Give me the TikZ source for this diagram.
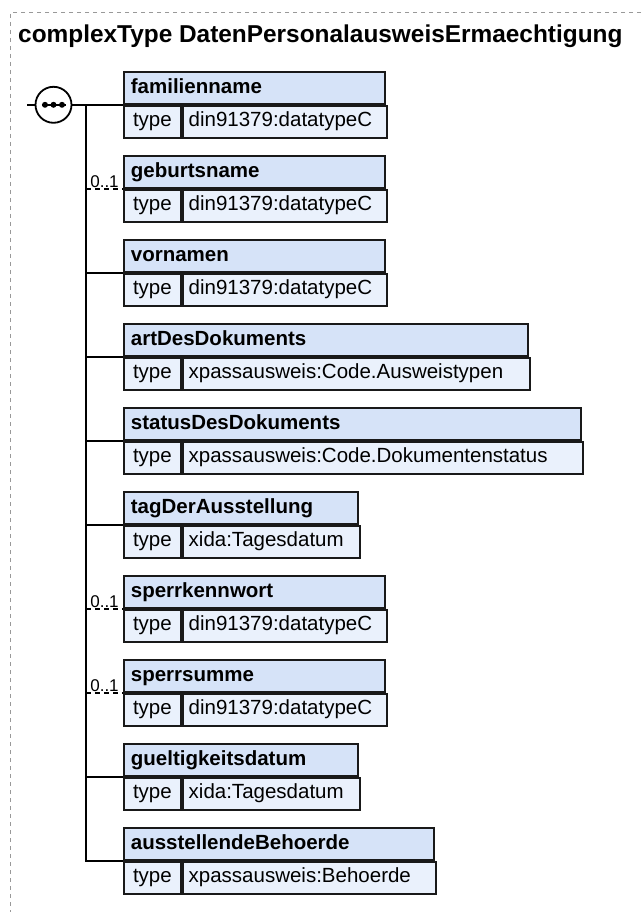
\documentclass[tikz,border=0pt]{standalone}
\usepackage{fontspec}
\setmainfont{Liberation Sans}
\usepackage{xcolor}
\usepackage{tikz}
\usetikzlibrary{positioning,calc}
\definecolor{hdrBlue}{RGB}{214,227,248}
\definecolor{rowBlue}{RGB}{234,241,252}
\definecolor{frameGray}{gray}{0.6}
\tikzset{
  hdr/.style={rectangle, draw=black!90, line width=1.8pt, fill=hdrBlue, anchor=north west, inner xsep=7pt, inner ysep=3pt, text width=#1, text height=18.25pt, text depth=7.75pt, align=left, font=\fontsize{20.5}{24}\selectfont\bfseries},
  tycell/.style={rectangle, draw=black!90, line width=1.8pt, fill=rowBlue, anchor=north west, inner xsep=5pt, inner ysep=3pt, minimum width=57pt, text height=18.25pt, text depth=7.75pt, font=\fontsize{20.5}{24}\selectfont},
  tyval/.style={rectangle, draw=black!90, line width=1.8pt, fill=rowBlue, anchor=north west, inner xsep=6pt, inner ysep=3pt, text width=#1, text height=18.25pt, text depth=7.75pt, align=left, font=\fontsize{20.5}{24}\selectfont},
  seq/.style={circle, draw=black, line width=1.8pt, fill=white, minimum size=36pt, inner sep=0pt},
  conn/.style={line width=1.6pt, draw=black},
  optconn/.style={conn, dash pattern=on 5pt off 4pt},
  card/.style={font=\fontsize{17}{20}\selectfont, inner sep=0.5pt, anchor=south}
}
\begin{document}
\begin{tikzpicture}[x=1pt, y=-1pt]
  \useasboundingbox (0,0) rectangle (641,912);
  \draw[frameGray, line width=1pt, dash pattern=on 4pt off 4pt] (641,13) -- (10,13) -- (10,912);
  \node[anchor=base west, inner sep=0pt, font=\fontsize{24.4}{28}\selectfont\bfseries] (title) at (18,43) {complexType DatenPersonalausweisErmaechtigung};

  % elements
  \node[hdr=247pt] (fam) at (123,71) {familienname};
  \node[tycell] (famt) at (fam.south west) {type};
  \node[tyval=192pt] (famv) at (famt.north east) {din91379:datatypeC};

  \node[hdr=247pt] (geb) at (123,155) {geburtsname};
  \node[tycell] (gebt) at (geb.south west) {type};
  \node[tyval=192pt] (gebv) at (gebt.north east) {din91379:datatypeC};

  \node[hdr=247pt] (vor) at (123,239) {vornamen};
  \node[tycell] (vort) at (vor.south west) {type};
  \node[tyval=192pt] (vorv) at (vort.north east) {din91379:datatypeC};

  \node[hdr=390pt] (art) at (123,323) {artDesDokuments};
  \node[tycell] (artt) at (art.south west) {type};
  \node[tyval=335pt] (artv) at (artt.north east) {xpassausweis:Code.Ausweistypen};

  \node[hdr=443pt] (stat) at (123,407) {statusDesDokuments};
  \node[tycell] (statt) at (stat.south west) {type};
  \node[tyval=388pt] (statv) at (statt.north east) {xpassausweis:Code.Dokumentenstatus};

  \node[hdr=220pt] (tag) at (123,491) {tagDerAusstellung};
  \node[tycell] (tagt) at (tag.south west) {type};
  \node[tyval=165pt] (tagv) at (tagt.north east) {xida:Tagesdatum};

  \node[hdr=247pt] (kw) at (123,575) {sperrkennwort};
  \node[tycell] (kwt) at (kw.south west) {type};
  \node[tyval=192pt] (kwv) at (kwt.north east) {din91379:datatypeC};

  \node[hdr=247pt] (sum) at (123,659) {sperrsumme};
  \node[tycell] (sumt) at (sum.south west) {type};
  \node[tyval=192pt] (sumv) at (sumt.north east) {din91379:datatypeC};

  \node[hdr=220pt] (gue) at (123,743) {gueltigkeitsdatum};
  \node[tycell] (guet) at (gue.south west) {type};
  \node[tyval=165pt] (guev) at (guet.north east) {xida:Tagesdatum};

  \node[hdr=296pt] (aus) at (123,827) {ausstellendeBehoerde};
  \node[tycell] (aust) at (aus.south west) {type};
  \node[tyval=241pt] (ausv) at (aust.north east) {xpassausweis:Behoerde};

  % sequence compositor
  \node[seq] (seq) at ($(fam.south west)+(-69.5,0)$) {};
  \coordinate (in) at ($(seq)+(-26.5,0)$);
  \coordinate (bus) at ($(fam.south west)+(-37,0)$);
  \draw[line width=1.6pt] (seq.center) ++(-12,0) -- ++(24,0);
  \fill (seq.center) ++(-8.5,0) circle (3pt);
  \fill (seq.center) circle (3pt);
  \fill (seq.center) ++(8.5,0) circle (3pt);

  % connectors
  \draw[conn] (in) -- (seq.west);
  \draw[conn] (seq.east) -- (fam.south west);
  \draw[conn] (bus) |- (aus.south west);
  \draw[optconn] (bus |- geb.south west) -- node[card] {0..1} (geb.south west);
  \draw[conn] (bus |- vor.south west) -- (vor.south west);
  \draw[conn] (bus |- art.south west) -- (art.south west);
  \draw[conn] (bus |- stat.south west) -- (stat.south west);
  \draw[conn] (bus |- tag.south west) -- (tag.south west);
  \draw[optconn] (bus |- kw.south west) -- node[card] {0..1} (kw.south west);
  \draw[optconn] (bus |- sum.south west) -- node[card] {0..1} (sum.south west);
  \draw[conn] (bus |- gue.south west) -- (gue.south west);
\end{tikzpicture}
\end{document}
